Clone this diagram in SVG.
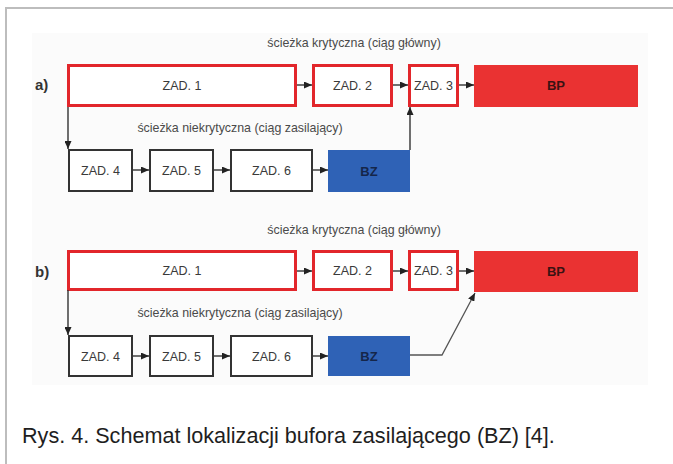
<svg xmlns="http://www.w3.org/2000/svg" width="673" height="464" viewBox="0 0 673 464">
<style>
.bg{fill:#ffffff}
.frame{fill:none;stroke:#bdbdbd;stroke-width:2}
.panel{fill:#fbfbfb}
.crit{fill:#ffffff;stroke:#e2262b;stroke-width:3}
.norm{fill:#ffffff;stroke:#333333;stroke-width:2}
.bp{fill:#ea3232}
.bz{fill:#2f62b6}
.t{font-family:"Liberation Sans",Arial,sans-serif;font-size:12.5px;fill:#3a3a3a;text-anchor:middle}
.lab{font-family:"Liberation Sans",Arial,sans-serif;font-size:12.4px;fill:#4a4a4a;text-anchor:middle}
.sec{font-family:"Liberation Sans",Arial,sans-serif;font-size:15px;font-weight:bold;fill:#333333}
.bt{font-family:"Liberation Sans",Arial,sans-serif;font-size:13px;font-weight:bold;text-anchor:middle}
.cap{font-family:"Liberation Sans",Arial,sans-serif;font-size:21.6px;fill:#1e1e1e}
.c{fill:none;stroke:#333333;stroke-width:1.4}
.cg{fill:none;stroke:#555555;stroke-width:1.3}
</style>
<defs>
<marker id="ah" viewBox="0 0 8 7" markerWidth="8" markerHeight="7" refX="8" refY="3.5" orient="auto" markerUnits="userSpaceOnUse">
<path d="M0,0 L8,3.5 L0,7 z" fill="#222222"/>
</marker>
</defs>
<rect class="bg" x="0" y="0" width="673" height="464"/>
<path class="frame" d="M6,464 L6,8 L673,8"/>
<rect class="panel" x="32" y="33" width="616" height="352"/>

<g id="section-a">
<text class="sec" x="35" y="90">a)</text>
<text class="lab" x="354" y="47">ścieżka krytyczna (ciąg główny)</text>
<text class="lab" x="240" y="132">ścieżka niekrytyczna (ciąg zasilający)</text>
</g>
<g id="a-zad1"><rect class="crit" x="68.5" y="65.5" width="227" height="40"/><text class="t" x="182" y="89.5">ZAD. 1</text></g>
<g id="a-zad2"><rect class="crit" x="313.5" y="65.5" width="78" height="40"/><text class="t" x="352.5" y="89.5">ZAD. 2</text></g>
<g id="a-zad3"><rect class="crit" x="409.5" y="65.5" width="48" height="40"/><text class="t" x="433.5" y="89.5">ZAD. 3</text></g>
<g id="a-bp"><rect class="bp" x="474" y="65" width="164" height="42"/><text class="bt" x="556" y="90" fill="#3a1212">BP</text></g>
<g id="a-zad4"><rect class="norm" x="69" y="150" width="63" height="41"/><text class="t" x="100.5" y="175">ZAD. 4</text></g>
<g id="a-zad5"><rect class="norm" x="150" y="150" width="63" height="41"/><text class="t" x="181.5" y="175">ZAD. 5</text></g>
<g id="a-zad6"><rect class="norm" x="231" y="150" width="81" height="41"/><text class="t" x="271.5" y="175">ZAD. 6</text></g>
<g id="a-bz"><rect class="bz" x="328" y="150" width="82" height="42"/><text class="bt" x="369" y="175.5" fill="#15264a">BZ</text></g>

<g id="section-b">
<text class="sec" x="35" y="277">b)</text>
<text class="lab" x="354" y="234">ścieżka krytyczna (ciąg główny)</text>
<text class="lab" x="240" y="317">ścieżka niekrytyczna (ciąg zasilający)</text>
</g>
<g id="b-zad1"><rect class="crit" x="68.5" y="251.5" width="227" height="38"/><text class="t" x="182" y="275">ZAD. 1</text></g>
<g id="b-zad2"><rect class="crit" x="313.5" y="251.5" width="78" height="38"/><text class="t" x="352.5" y="275">ZAD. 2</text></g>
<g id="b-zad3"><rect class="crit" x="409.5" y="251.5" width="48" height="38"/><text class="t" x="433.5" y="275">ZAD. 3</text></g>
<g id="b-bp"><rect class="bp" x="474" y="251" width="164" height="41"/><text class="bt" x="556" y="276" fill="#3a1212">BP</text></g>
<g id="b-zad4"><rect class="norm" x="69" y="336" width="63" height="40"/><text class="t" x="100.5" y="360.5">ZAD. 4</text></g>
<g id="b-zad5"><rect class="norm" x="150" y="336" width="63" height="40"/><text class="t" x="181.5" y="360.5">ZAD. 5</text></g>
<g id="b-zad6"><rect class="norm" x="231" y="336" width="81" height="40"/><text class="t" x="271.5" y="360.5">ZAD. 6</text></g>
<g id="b-bz"><rect class="bz" x="328" y="336" width="82" height="40"/><text class="bt" x="369" y="361" fill="#15264a">BZ</text></g>

<g id="connectors">
<line class="c" x1="297" y1="85" x2="312" y2="85" marker-end="url(#ah)"/>
<line class="c" x1="393" y1="85" x2="408" y2="85" marker-end="url(#ah)"/>
<line class="c" x1="459" y1="85" x2="474" y2="85" marker-end="url(#ah)"/>
<line class="c" x1="68" y1="107" x2="68" y2="149" marker-end="url(#ah)"/>
<line class="c" x1="133" y1="170" x2="149" y2="170" marker-end="url(#ah)"/>
<line class="c" x1="214" y1="170" x2="230" y2="170" marker-end="url(#ah)"/>
<line class="c" x1="313" y1="170" x2="328" y2="170" marker-end="url(#ah)"/>
<line class="c" x1="410" y1="150" x2="410" y2="107" marker-end="url(#ah)"/>

<line class="c" x1="297" y1="271" x2="312" y2="271" marker-end="url(#ah)"/>
<line class="c" x1="393" y1="271" x2="408" y2="271" marker-end="url(#ah)"/>
<line class="c" x1="459" y1="271" x2="474" y2="271" marker-end="url(#ah)"/>
<line class="c" x1="68" y1="290" x2="68" y2="335" marker-end="url(#ah)"/>
<line class="c" x1="133" y1="356" x2="149" y2="356" marker-end="url(#ah)"/>
<line class="c" x1="214" y1="356" x2="230" y2="356" marker-end="url(#ah)"/>
<line class="c" x1="313" y1="356" x2="328" y2="356" marker-end="url(#ah)"/>
<polyline class="cg" points="410,355 442,355 475,293" marker-end="url(#ah)"/>
</g>

<text class="cap" x="22" y="443">Rys. 4. Schemat lokalizacji bufora zasilającego (BZ) [4].</text>
</svg>
